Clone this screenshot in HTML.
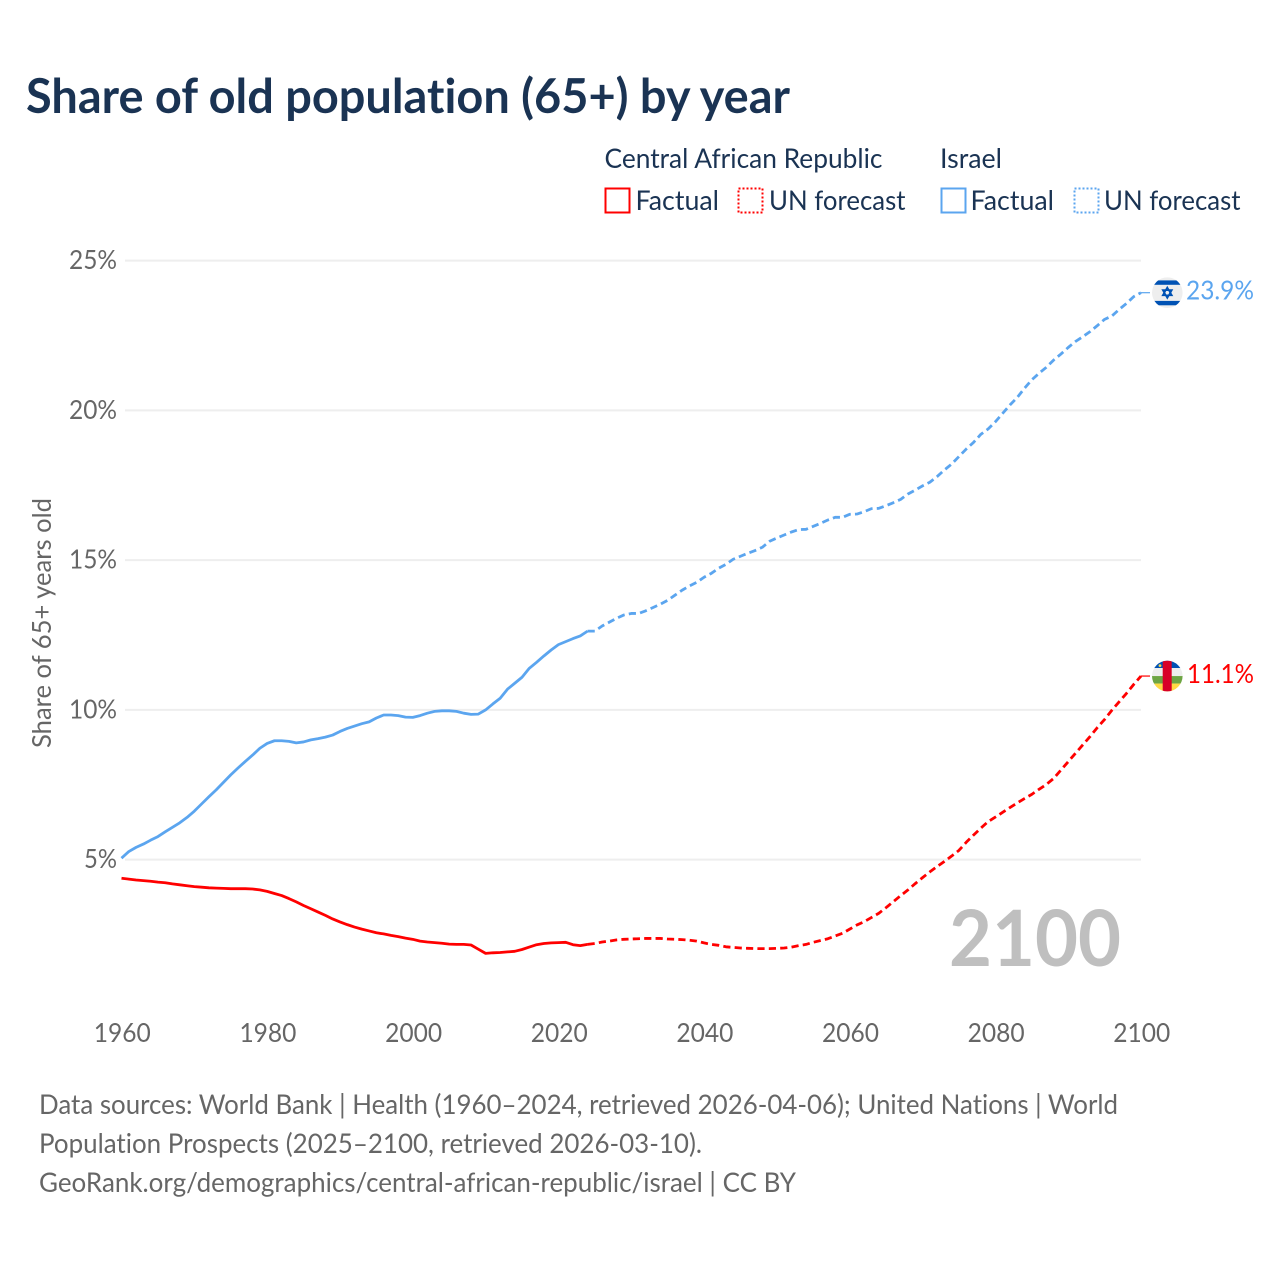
<!DOCTYPE html>
<html lang="en">
<head>
<meta charset="utf-8">
<title>Share of old population (65+) by year</title>
<style>
html,body{margin:0;padding:0;background:#fff;width:1280px;height:1280px;overflow:hidden}
svg{display:block}
text{font-family:"Lato","Carlito","Liberation Sans",sans-serif;font-variant-ligatures:none;font-feature-settings:"liga" 0,"clig" 0}
</style>
</head>
<body>
<svg id="chart" xmlns="http://www.w3.org/2000/svg" width="1280" height="1280" viewBox="0 0 1280 1280">
  <defs>
    <clipPath id="flag-clip-il"><circle cx="0" cy="0" r="15.3"/></clipPath>
    <clipPath id="flag-clip-cf"><circle cx="0" cy="0" r="15.3"/></clipPath>
  </defs>
  <rect x="0" y="0" width="1280" height="1280" fill="#fff"/>
  <text x="26" y="113" font-size="47.5" font-weight="700" fill="#1a3353" textLength="764" lengthAdjust="spacingAndGlyphs">Share of old population (65+) by year</text>

  <g font-size="27.5" fill="#1a3353">
    <text x="604.5" y="168" textLength="278" lengthAdjust="spacingAndGlyphs">Central African Republic</text>
    <text x="940" y="168" textLength="62" lengthAdjust="spacingAndGlyphs">Israel</text>
    <rect x="605.5" y="188.5" width="24" height="24" fill="none" stroke="#ff0000" stroke-width="2"/>
    <text x="635.5" y="210" textLength="83.5" lengthAdjust="spacingAndGlyphs">Factual</text>
    <rect x="738.5" y="188.5" width="24" height="24" fill="none" stroke="#ff0000" stroke-width="2" stroke-dasharray="2 2"/>
    <text x="769" y="210" textLength="136.5" lengthAdjust="spacingAndGlyphs">UN forecast</text>
    <rect x="941.5" y="188.5" width="24" height="24" fill="none" stroke="#5ba5ef" stroke-width="2"/>
    <text x="970.5" y="210" textLength="83.5" lengthAdjust="spacingAndGlyphs">Factual</text>
    <rect x="1074.5" y="188.5" width="24" height="24" fill="none" stroke="#5ba5ef" stroke-width="2" stroke-dasharray="2 2"/>
    <text x="1104" y="210" textLength="136.5" lengthAdjust="spacingAndGlyphs">UN forecast</text>
  </g>

  <g id="grid"></g>
  <g id="y-ticks" font-size="26.5" fill="#666" text-anchor="end"></g>
  <g id="x-ticks" font-size="26.5" fill="#666" text-anchor="middle"></g>
  <text transform="translate(51,748) rotate(-90)" font-size="26.5" fill="#666" textLength="250" lengthAdjust="spacingAndGlyphs">Share of 65+ years old</text>

  <text x="949" y="966" font-size="78" font-weight="700" fill="#bfbfbf" textLength="172" lengthAdjust="spacingAndGlyphs">2100</text>

  <g id="series"></g>

  <g id="flag-il">
    <g clip-path="url(#flag-clip-il)">
      <rect x="-16" y="-16" width="32" height="32" fill="#eeeeee"/>
      <rect x="-16" y="-12.3" width="32" height="4.4" fill="#0052b4"/>
      <rect x="-16" y="8.2" width="32" height="4.4" fill="#0052b4"/>
    </g>
    <polygon points="0,-5.2 4.5,2.6 -4.5,2.6" fill="none" stroke="#0052b4" stroke-width="1.7"/>
    <polygon points="0,5.2 4.5,-2.6 -4.5,-2.6" fill="none" stroke="#0052b4" stroke-width="1.7"/>
  </g>
  <g id="flag-cf">
    <g clip-path="url(#flag-clip-cf)">
      <rect x="-16" y="-16" width="32" height="8" fill="#0052b4"/>
      <rect x="-16" y="-8" width="32" height="8" fill="#eeeeee"/>
      <rect x="-16" y="0" width="32" height="7.5" fill="#6da544"/>
      <rect x="-16" y="7.5" width="32" height="8.5" fill="#ffda44"/>
      <rect x="-4.6" y="-16" width="9" height="32" fill="#d80027"/>
      <circle cx="-7.3" cy="-10.4" r="1.4" fill="#ffda44"/>
    </g>
  </g>

  <text id="label-il" x="1186" font-size="26.5" fill="#5ba5ef" textLength="68" lengthAdjust="spacingAndGlyphs"></text>
  <text id="label-cf" x="1187" font-size="26.5" fill="#ff0000" textLength="67" lengthAdjust="spacingAndGlyphs"></text>

  <g font-size="27.5" fill="#666">
    <text x="39" y="1114" textLength="1079" lengthAdjust="spacingAndGlyphs">Data sources: World Bank | Health (1960–2024, retrieved 2026-04-06); United Nations | World</text>
    <text x="39" y="1153" textLength="663" lengthAdjust="spacingAndGlyphs">Population Prospects (2025–2100, retrieved 2026-03-10).</text>
    <text x="39" y="1192" textLength="757" lengthAdjust="spacingAndGlyphs">GeoRank.org/demographics/central-african-republic/israel | CC BY</text>
  </g>
</svg>
<script>
const xTickYears = [1960, 1980, 2000, 2020, 2040, 2060, 2080, 2100];
const yTickValues = [5, 10, 15, 20, 25];
const factualStartYear = 1960;
const forecastStartYear = 2024;
const israelFactual = [
  5.05,5.27,5.41,5.52,5.65,5.77,5.93,6.08,6.23,6.41,
  6.62,6.86,7.1,7.33,7.58,7.83,8.06,8.28,8.49,8.72,
  8.88,8.97,8.97,8.95,8.9,8.93,9.0,9.04,9.09,9.16,
  9.28,9.38,9.46,9.54,9.6,9.73,9.83,9.83,9.81,9.76,
  9.75,9.81,9.89,9.95,9.97,9.97,9.95,9.89,9.85,9.86,
  10.0,10.2,10.39,10.69,10.89,11.09,11.39,11.59,11.8,12.0,
  12.18,12.28,12.38,12.47,12.63
];
const israelForecast = [
  12.63,12.63,12.8,12.93,13.06,13.17,
  13.22,13.22,13.31,13.42,13.53,13.66,13.83,14.0,14.14,14.26,
  14.43,14.56,14.73,14.86,15.03,15.13,15.23,15.32,15.43,15.63,
  15.74,15.84,15.94,16.02,16.03,16.13,16.23,16.34,16.43,16.43,
  16.53,16.54,16.62,16.72,16.73,16.82,16.92,17.03,17.21,17.34,
  17.48,17.6,17.79,18.01,18.21,18.46,18.71,18.93,19.2,19.38,
  19.62,19.9,20.18,20.43,20.74,21.02,21.24,21.44,21.68,21.88,
  22.1,22.3,22.46,22.63,22.83,23.04,23.15,23.37,23.57,23.8,
  23.93
];
const carFactual = [
  4.38,4.35,4.32,4.3,4.28,4.25,4.23,4.19,4.16,4.13,
  4.1,4.08,4.06,4.05,4.04,4.03,4.03,4.03,4.02,3.99,
  3.94,3.87,3.8,3.7,3.59,3.47,3.36,3.25,3.14,3.02,
  2.92,2.83,2.75,2.68,2.62,2.56,2.52,2.47,2.43,2.38,
  2.34,2.28,2.25,2.23,2.21,2.18,2.17,2.17,2.15,2.01,
  1.87,1.89,1.9,1.92,1.94,2.0,2.08,2.16,2.2,2.22,
  2.23,2.24,2.16,2.13,2.17
];
const carForecast = [
  2.17,2.2,2.25,2.28,2.32,2.34,
  2.35,2.36,2.37,2.37,2.37,2.35,2.34,2.33,2.31,2.28,
  2.22,2.17,2.14,2.09,2.07,2.05,2.04,2.03,2.03,2.03,
  2.04,2.05,2.08,2.13,2.17,2.24,2.3,2.36,2.45,2.54,
  2.68,2.82,2.93,3.07,3.21,3.4,3.6,3.8,3.99,4.2,
  4.4,4.59,4.77,4.94,5.12,5.31,5.58,5.82,6.05,6.27,
  6.42,6.58,6.74,6.89,7.04,7.18,7.35,7.51,7.71,7.99,
  8.27,8.55,8.83,9.11,9.41,9.68,9.99,10.27,10.55,10.85,
  11.13
];

const NS = 'http://www.w3.org/2000/svg';
function xScale(year) { return 121.5 + (year - 1960) * (1141 - 121.5) / 140; }
function yScale(value) { return 1009.4 - value * 29.95; }
function pathFor(values, startYear) {
  return values.map(function (v, i) {
    return (i ? 'L' : 'M') + xScale(startYear + i).toFixed(2) + ' ' + yScale(v).toFixed(2);
  }).join(' ');
}
function drawLine(d, color, width, dash, name) {
  const p = document.createElementNS(NS, 'path');
  p.setAttribute('d', d);
  p.setAttribute('fill', 'none');
  p.setAttribute('stroke', color);
  p.setAttribute('stroke-width', width);
  p.setAttribute('stroke-linejoin', 'round');
  if (dash) p.setAttribute('stroke-dasharray', dash);
  
  
  document.getElementById('series').appendChild(p);
}

const gridGroup = document.getElementById('grid');
const yTickGroup = document.getElementById('y-ticks');
yTickValues.forEach(function (v) {
  const line = document.createElementNS(NS, 'line');
  line.setAttribute('x1', 125);
  line.setAttribute('x2', 1141);
  line.setAttribute('y1', yScale(v));
  line.setAttribute('y2', yScale(v));
  line.setAttribute('stroke', '#eeeeee');
  line.setAttribute('stroke-width', 2);
  
  
  gridGroup.appendChild(line);
  const t = document.createElementNS(NS, 'text');
  t.setAttribute('x', 117);
  t.setAttribute('y', yScale(v) + 8.5);
  t.setAttribute('textLength', v >= 10 ? 48 : 33);
  t.setAttribute('lengthAdjust', 'spacingAndGlyphs');
  
  
  t.textContent = v + '%';
  yTickGroup.appendChild(t);
});
const xTickGroup = document.getElementById('x-ticks');
xTickYears.forEach(function (year) {
  const t = document.createElementNS(NS, 'text');
  t.setAttribute('x', xScale(year) + 0.8);
  t.setAttribute('y', 1042);
  t.setAttribute('textLength', 57);
  t.setAttribute('lengthAdjust', 'spacingAndGlyphs');
  
  
  t.textContent = year;
  xTickGroup.appendChild(t);
});

const blue = '#5ba5ef';
const red = '#ff0000';
const dashPattern = '7.2 4.2';
drawLine(pathFor(israelFactual, factualStartYear), blue, 2.8, null, 'israel-factual-line');
drawLine(pathFor(israelForecast, forecastStartYear), blue, 2.8, dashPattern, 'israel-forecast-line');
drawLine(pathFor(carFactual, factualStartYear), red, 2.8, null, 'car-factual-line');
drawLine(pathFor(carForecast, forecastStartYear), red, 2.8, dashPattern, 'car-forecast-line');

const lastYear = forecastStartYear + israelForecast.length - 1;
const ilLast = israelForecast[israelForecast.length - 1];
const cfLast = carForecast[carForecast.length - 1];
drawLine('M' + xScale(lastYear) + ' ' + yScale(ilLast) + ' L1150 ' + yScale(ilLast), blue, 1.2, null, 'israel-flag-connector');
drawLine('M' + xScale(lastYear) + ' ' + yScale(cfLast) + ' L1150 ' + yScale(cfLast), red, 1.2, null, 'car-flag-connector');

document.getElementById('flag-il').setAttribute('transform', 'translate(1167.3,' + yScale(ilLast) + ')');
document.getElementById('flag-cf').setAttribute('transform', 'translate(1167.3,' + yScale(cfLast) + ')');
const labelIl = document.getElementById('label-il');
labelIl.setAttribute('y', yScale(ilLast) + 7);
labelIl.textContent = ilLast.toFixed(1) + '%';
const labelCf = document.getElementById('label-cf');
labelCf.setAttribute('y', yScale(cfLast) + 7);
labelCf.textContent = cfLast.toFixed(1) + '%';
</script>
</body>
</html>
